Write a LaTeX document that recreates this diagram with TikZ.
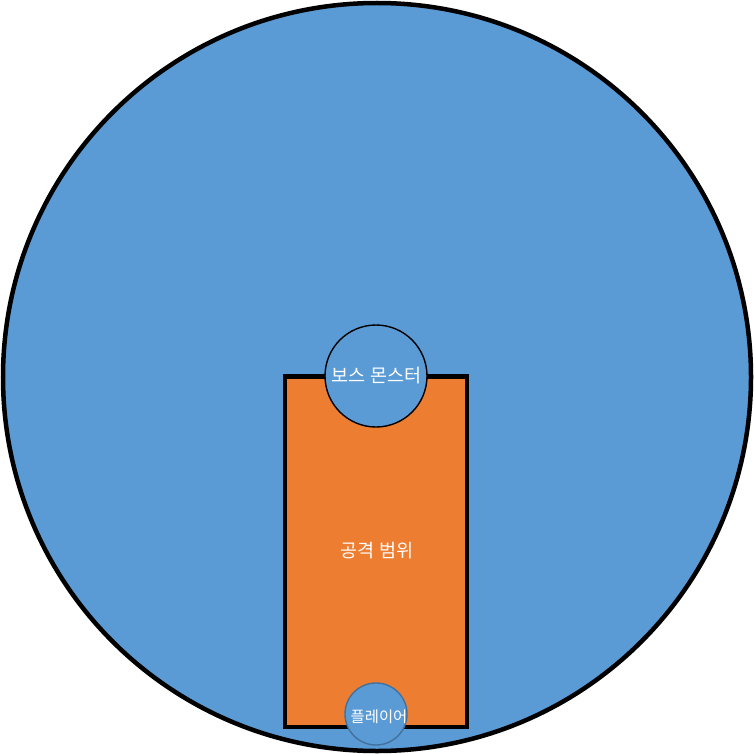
\documentclass[tikz,border=0pt]{standalone}
\usepackage{fontspec}
\newfontfamily\kr{Noto Sans CJK KR}
\definecolor{fillblue}{HTML}{5B9BD5}
\definecolor{fillorange}{HTML}{ED7D31}
\definecolor{edgeblue}{HTML}{41719C}
\begin{document}
\begin{tikzpicture}[x=1pt,y=-1pt,
  arena/.style={draw=black,line width=4.5pt,fill=fillblue},
  zone/.style={draw=black,line width=4.5pt,fill=fillorange},
  boss/.style={circle,draw=black,line width=1.4pt,fill=fillblue,minimum size=102pt,inner sep=0pt},
  player/.style={circle,draw=edgeblue,line width=1.4pt,fill=fillblue,minimum size=62pt,inner sep=0pt},
  lbl/.style={text=white,font=\kr\fontsize{18.5}{20}\selectfont,inner sep=0pt},
  slbl/.style={text=white,font=\kr\fontsize{15.4}{17}\selectfont,inner sep=0pt}]
\useasboundingbox (0,0) rectangle (754,754);
\draw[arena] (377,377) circle[radius=374];
\draw[zone] (285,376.5) rectangle (467,727);
\node[boss] (boss) at (376,376) {};
\node[lbl] (bosstext) at (376.5,376) {보스 몬스터};
\node[lbl] (range) at (377,551) {공격 범위};
\node[player] (player) at (376,714) {};
\node[slbl] (playertext) at (379,717) {플레이어};
\end{tikzpicture}
\end{document}
